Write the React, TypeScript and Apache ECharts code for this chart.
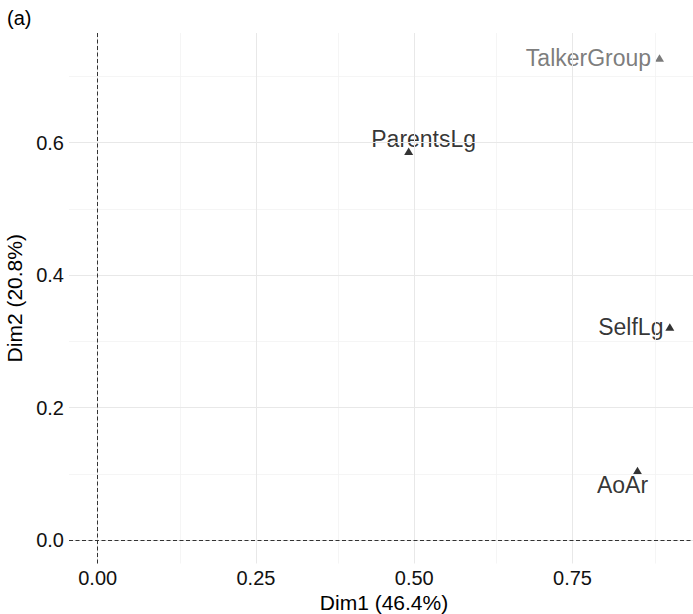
import React, { useEffect, useRef } from "react";
import * as echarts from "echarts";

const variables = ["ParentsLg", "TalkerGroup", "SelfLg", "AoAr"];
const dim1 = [0.4912, 0.8874, 0.9037, 0.8526];
const dim2 = [0.587, 0.7279, 0.3217, 0.105];
const xTicks = [0, 0.25, 0.5, 0.75];
const yTicks = [0, 0.2, 0.4, 0.6];
const xMinor = [0.125, 0.375, 0.625, 0.875];
const yMinor = [0.1, 0.3, 0.5, 0.7];
const xTitle = "Dim1 (46.4%)";
const yTitle = "Dim2 (20.8%)";
const panelTag = "(a)";

const FONT = '"Liberation Sans", Arial, Helvetica, sans-serif';

// presentation only: colours and label placement per point
const pointColors: Record<string, string> = {
  ParentsLg: "#000000",
  TalkerGroup: "#5a5a5a",
  SelfLg: "#000000",
  AoAr: "#000000",
};
const labelOffsets: Record<string, [number, number]> = {
  ParentsLg: [15, -12],
  TalkerGroup: [-71, 0.5],
  SelfLg: [-39, 0.5],
  AoAr: [-15, 14.5],
};

export default function App() {
  const ref = useRef<HTMLDivElement>(null);
  useEffect(() => {
    if (!ref.current) return;
    const chart = echarts.init(ref.current, undefined, { renderer: "svg" });
    const gridLine = (axis: "xAxis" | "yAxis", v: number) => ({ [axis]: v });
    chart.setOption({
      animation: false,
      backgroundColor: "#ffffff",
      textStyle: { fontFamily: FONT },
      grid: { left: 69, right: 0, top: 33, bottom: 50.5, containLabel: false, outerBoundsMode: "none" },
      xAxis: {
        type: "value",
        min: -0.0453,
        max: 0.9403,
        name: xTitle,
        nameLocation: "middle",
        nameGap: 23,
        nameTextStyle: { fontSize: 21, color: "#000", fontFamily: FONT, verticalAlign: "top", padding: [0, 0, 0, 6] },
        axisLine: { show: false },
        splitLine: { show: false },
        axisTick: { show: true, customValues: xTicks, length: 3, lineStyle: { color: "#333", width: 1 } },
        axisLabel: {
          customValues: xTicks,
          margin: 4,
          fontSize: 20,
          color: "#111",
          fontFamily: FONT,
          formatter: (v: number) => v.toFixed(2),
        },
      },
      yAxis: {
        type: "value",
        min: -0.0355,
        max: 0.7656,
        name: yTitle,
        nameLocation: "middle",
        nameGap: 33,
        nameRotate: 90,
        nameTextStyle: { fontSize: 21, color: "#000", fontFamily: FONT },
        axisLine: { show: false },
        splitLine: { show: false },
        axisTick: { show: true, customValues: yTicks, length: 3, lineStyle: { color: "#333", width: 1 } },
        axisLabel: {
          customValues: yTicks,
          margin: 5,
          fontSize: 20,
          color: "#111",
          fontFamily: FONT,
          formatter: (v: number) => v.toFixed(1),
        },
      },
      graphic: [
        {
          type: "text",
          left: 7,
          top: 8,
          style: { text: panelTag, font: `20px ${FONT}`, fill: "#000" },
        },
      ],
      series: [
        {
          type: "scatter",
          data: [],
          z: 0,
          silent: true,
          markLine: {
            silent: true,
            symbol: ["none", "none"],
            label: { show: false },
            animation: false,
            lineStyle: { color: "#F2F2F2", width: 0.8, type: "solid" },
            data: [...xMinor.map((v) => gridLine("xAxis", v)), ...yMinor.map((v) => gridLine("yAxis", v))],
          },
        },
        {
          type: "scatter",
          data: [],
          z: 1,
          silent: true,
          markLine: {
            silent: true,
            symbol: ["none", "none"],
            label: { show: false },
            animation: false,
            lineStyle: { color: "#E8E8E8", width: 1, type: "solid" },
            data: [...xTicks.map((v) => gridLine("xAxis", v)), ...yTicks.map((v) => gridLine("yAxis", v))],
          },
        },
        {
          type: "scatter",
          data: [],
          z: 2,
          silent: true,
          markLine: {
            silent: true,
            symbol: ["none", "none"],
            label: { show: false },
            animation: false,
            lineStyle: { color: "#333333", width: 1, type: [4, 2.5] },
            data: [{ xAxis: 0 }, { yAxis: 0 }],
          },
        },
        {
          type: "scatter",
          z: 3,
          symbol: "triangle",
          symbolSize: [9, 7.5],
          label: { textBorderWidth: 0 },
          data: variables.map((name, i) => ({
            name,
            value: [dim1[i], dim2[i]],
            itemStyle: { color: pointColors[name] },
            label: {
              show: true,
              formatter: name,
              position: "inside",
              offset: labelOffsets[name],
              align: "center",
              verticalAlign: "middle",
              fontSize: 23,
              fontFamily: FONT,
              color: pointColors[name],
              textBorderWidth: 0,
              textBorderColor: "transparent",
            },
          })),
        },
      ],
    });
    return () => chart.dispose();
  }, []);
  return <div ref={ref} style={{ width: 693, height: 614, position: "absolute", left: 0, top: 0 }} />;
}
